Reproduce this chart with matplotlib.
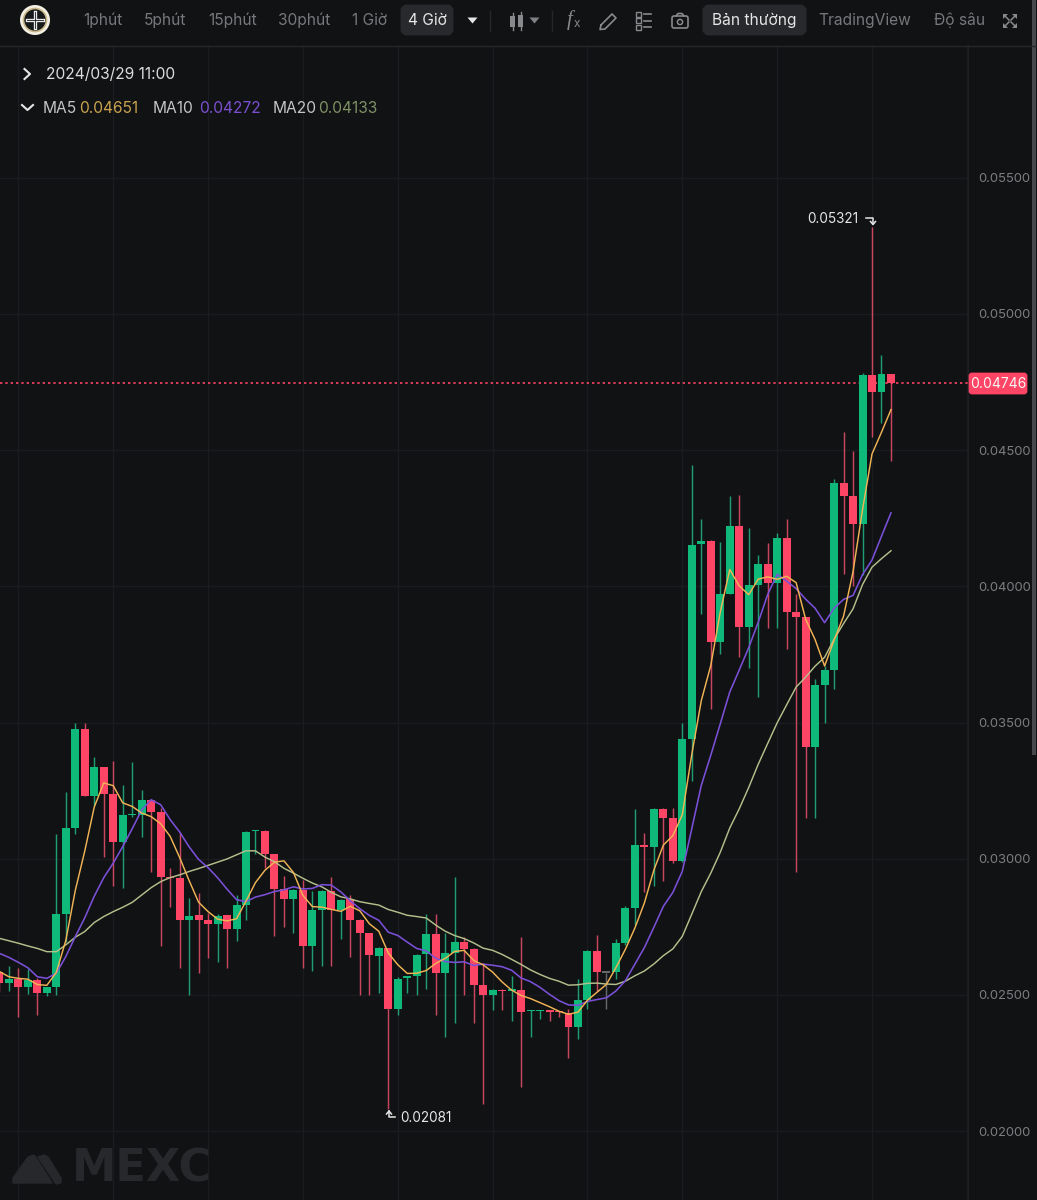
import numpy as np
import pandas as pd
import matplotlib
matplotlib.use("Agg")
import matplotlib.pyplot as plt
from matplotlib.patches import Rectangle, FancyBboxPatch, Circle, Polygon

# Prices in units of 0.00001
opens = [2586,2543,2558,2528,2555,2506,2528,2797,3113,3475,3229,3336,3238,3063,3160,3160,3215,3173,2934,2928,
         2775,2792,2774,2762,2792,2742,2830,3101,3103,3017,2888,2854,2885,2681,2812,2881,2812,2851,2774,2728,
         2644,2673,2450,2563,2568,2650,2723,2580,2653,2695,2668,2537,2500,2518,2516,2519,2440,2440,2444,2439,
         2433,2384,2482,2663,2582,2585,2690,2821,3050,3045,3183,3150,2993,3439,4155,4167,3797,3972,4222,3852,
         4005,4082,4014,4177,3907,3889,3412,3637,3693,4381,4330,4229,4776,4714,4779]
highs = [2592,2606,2598,2594,2561,2531,3090,3246,3500,3500,3372,3336,3360,3271,3355,3253,3220,3185,2965,3100,
         2857,2876,2800,2796,2792,2867,3102,3104,3104,3017,2937,2888,2922,2882,2886,2932,2854,2868,2778,2728,
         2675,2673,2565,2568,2650,2797,2798,2729,2932,2712,2672,2617,2521,2521,2570,2713,2444,2444,2444,2443,
         2448,2560,2666,2722,2582,2707,2825,3182,3094,3186,3186,3187,3498,4446,4246,4169,4162,4330,4336,4213,
         4116,4158,4195,4248,3972,3889,3660,3706,4393,4568,4498,4785,5321,4849,4779]
lows = [2512,2515,2420,2504,2427,2496,2500,2696,3090,3229,3198,3008,2900,2894,3155,3081,2953,2681,2824,2598,
        2500,2580,2635,2622,2598,2700,2775,3018,2965,2718,2751,2729,2598,2589,2608,2608,2706,2641,2500,2500,
        2509,2081,2427,2509,2500,2522,2426,2344,2399,2500,2399,2101,2445,2445,2404,2161,2344,2411,2406,2421,
        2268,2338,2450,2513,2450,2558,2684,2757,2877,2900,2920,2984,2990,3286,3898,3549,3751,3972,3742,3699,
        3595,3846,3849,3769,2953,3151,3151,3500,3625,4046,4002,4042,4547,4601,4460]
closes = [2543,2560,2528,2555,2506,2528,2797,3113,3475,3229,3336,3239,3063,3160,3163,3215,3173,2933,2929,2775,
          2791,2775,2761,2791,2742,2830,3098,3103,3017,2890,2854,2885,2681,2812,2881,2812,2849,2775,2728,2645,
          2673,2450,2560,2568,2648,2723,2580,2653,2695,2668,2538,2500,2519,2514,2519,2439,2443,2444,2439,2436,
          2384,2482,2663,2584,2582,2690,2821,3052,3045,3183,3151,2993,3439,4152,4167,3797,3972,4222,3852,4005,
          4082,4014,4177,3907,3889,3412,3637,3693,4381,4330,4229,4777,4714,4779,4746]
ma5_start = [2586,2567,2561,2558]
ma10_start = [2653,2638,2620,2600,2567,2561,2580,2641,2714]
ma20_start = [2708,2699,2690,2680,2671,2659,2659,2684,2712,2733,2766,2788,2806,2822,2840,2867,2894,2916,2931]
price_ticks = [0.020,0.025,0.030,0.035,0.040,0.045,0.050,0.055]
periods = ["1phút","5phút","15phút","30phút","1 Giờ","4 Giờ"]
last_price = 0.04746
high_label, low_label = 0.05321, 0.02081

SCALE = 1e-5
o,h,l,c = [np.array(a)*SCALE for a in (opens,highs,lows,closes)]
def ma(win, start):
    r = pd.Series(c).rolling(win).mean().to_numpy()
    r[:len(start)] = np.array(start)*SCALE
    return r
idx = np.arange(len(c))

BG="#111214"; GRID="#1b1c1f"; UP="#0fb97a"; DOWN="#fe4565"; UPW="#1f9c72"; DOWNW="#c9465f"; FLAT="#66676a"
plt.rcParams['font.family']=['Inter','DejaVu Sans']
W,H=1037,1200
fig=plt.figure(figsize=(W/100,H/100),dpi=100,facecolor=BG)
ax=fig.add_axes([0,0,968/W,1],facecolor=BG)
ax.set_xlim(0.063,102.12)
ax.set_ylim(1747.4*SCALE,6152.6*SCALE)
ax.set_yticks(price_ticks)
ax.set_yticklabels([f"{t:.5f}" for t in price_ticks])
ax.set_xticks(np.arange(2,103,10))
ax.tick_params(axis='y',left=False,right=False,length=0,labelleft=False,labelright=True,pad=7.2,labelcolor="#7c7d80",labelsize=9.4)
ax.tick_params(axis='x',bottom=False,labelbottom=False)
ax.grid(True,color=GRID,lw=1.0,zorder=0)
for s in ('top','left','bottom'): ax.spines[s].set_visible(False)
ax.spines['right'].set_color("#1e1f22")

col=[UP if b>a else (DOWN if b<a else FLAT) for a,b in zip(o,c)]
wcol=[UPW if b>a else (DOWNW if b<a else FLAT) for a,b in zip(o,c)]
ax.vlines(idx,l,h,colors=wcol,lw=1.05,zorder=2)
body=np.maximum(np.abs(c-o),5*SCALE)
ax.bar(idx,body,bottom=np.minimum(o,c),width=0.84,color=col,lw=0,zorder=3)
ax.plot(idx,ma(20,ma20_start),color="#b4bf8b",lw=1.05,zorder=4)
ax.plot(idx,ma(10,ma10_start),color="#7a50d8",lw=1.15,zorder=5)
ax.plot(idx,ma(5,ma5_start),color="#f0b455",lw=1.05,zorder=6)
ax.axhline(last_price,color=DOWN,lw=1.2,dashes=(1.4,1.8),zorder=2.5)

# overlay in pixel coordinates for the interface furniture
ov=fig.add_axes([0,0,1,1],facecolor='none')
ov.set_xlim(0,W); ov.set_ylim(H,0); ov.axis('off')
T=dict(va='center',fontsize=11.2)
# header
ov.add_patch(Rectangle((0,0),W,45,fc=BG,ec='none'))
ov.plot([0,W],[45.5,45.5],color="#26272a",lw=1)
for s,xc,cc in zip(periods,[103,165,233,304,370,427],["#77787b"]*5+["#e6e6e6"]):
    if s=="4 Giờ":
        ov.add_patch(FancyBboxPatch((404,8),46,24,boxstyle="round,pad=0,rounding_size=3",mutation_aspect=1,fc="#27292c",ec="#27292c",lw=5))
    ov.text(xc,20.5,s,ha='center',color=cc,**T)
ov.add_patch(FancyBboxPatch((706,8),97,24,boxstyle="round,pad=0,rounding_size=3",fc="#27292c",ec="#27292c",lw=5))
ov.text(754.5,20.5,"Bản thường",ha='center',color="#e6e6e6",**T)
ov.text(865,20.5,"TradingView",ha='center',color="#77787b",**T)
ov.text(959.5,20.5,"Độ sâu",ha='center',color="#77787b",**T)
for xt,cc in ((472.5,"#e6e6e6"),(534.5,"#808184")):
    ov.add_patch(Polygon([(xt-5,17.5),(xt+5,17.5),(xt,23.5)],fc=cc,ec='none'))
for xs in (489.5,551.5):
    ov.plot([xs,xs],[11,31],color="#26272a",lw=1)
# logo
ov.add_patch(Circle((35,20),15,fc="#f3efe2",ec='none'))
ov.add_patch(Circle((35,20),11.5,fc="#17181a",ec="#c9b98a",lw=1.2))
ov.plot([27,43],[20,20],color="#e8e8e8",lw=2.4); ov.plot([35,35],[12,28],color="#e8e8e8",lw=2.4)
ov.plot([27,43],[20,20],color="#17181a",lw=.6); ov.plot([35,35],[12,28],color="#17181a",lw=.6)
# icons
IC="#88898c"
ov.add_patch(Rectangle((510,16),5,11,fc=IC,ec='none')); ov.plot([512.5,512.5],[13,30],color=IC,lw=1)
ov.add_patch(Rectangle((518,15),5,12,fc=IC,ec='none')); ov.plot([520.5,520.5],[12,30],color=IC,lw=1)
ov.text(570,20,"f",ha='center',va='center',color=IC,fontsize=15,style='italic',family='Liberation Serif')
ov.text(577,24,"x",ha='center',va='center',color=IC,fontsize=8.5)
ov.plot([601,612,616,605,600,601],[25,14,18,29,29.5,25],color=IC,lw=1.2)
for yy in (14,20.5,27):
    ov.add_patch(Rectangle((636,yy-2.5),5,5,fc='none',ec=IC,lw=1))
    ov.plot([644,651],[yy,yy],color=IC,lw=1.2)
ov.add_patch(FancyBboxPatch((672,16),16,12,boxstyle="round,pad=0,rounding_size=2",fc='none',ec=IC,lw=1.2))
ov.plot([676,678,682,684],[16,13.5,13.5,16],color=IC,lw=1.2)
ov.add_patch(Circle((680,22),2.6,fc='none',ec=IC,lw=1.1))
for (x0,y0,sx,sy) in ((1003,14,1,1),(1017,14,-1,1),(1003,28,1,-1),(1017,28,-1,-1)):
    ov.add_patch(Polygon([(x0,y0),(x0+5*sx,y0),(x0,y0+5*sy)],fc=IC,ec='none'))
    ov.plot([x0+1*sx,x0+6*sx],[y0+1*sy,y0+6*sy],color=IC,lw=1.1)
# legend
ov.plot([24.5,30,24.5],[69,74,79],color="#e6e6e6",lw=1.5)
ov.text(46,74.5,"2024/03/29 11:00",ha='left',color="#dcdcdc",**T)
ov.plot([22,27.5,33],[105,110,105],color="#e6e6e6",lw=1.5)
for xl,s,xv,v,cc in ((43,"MA5",79,"0.04651","#c9a34e"),(153,"MA10",199,"0.04272","#7a50d0"),(273,"MA20",318,"0.04133","#7d9064")):
    ov.text(xl,108.5,s,ha='left',color="#c4c5c7",**T)
    ov.text(xv,108.5,v,ha='left',color=cc,**T)
# extremes, placed through the price axis
ax.annotate(f"{high_label:.5f}",(93-0.05,high_label),xytext=(-16,5.5),textcoords='offset points',ha='right',va='center',color="#e6e6e6",fontsize=9.8,annotation_clip=False)
ax.annotate(f"{low_label:.5f}",(42,low_label),xytext=(2,-6.5),textcoords='offset points',ha='left',va='center',color="#e6e6e6",fontsize=9.8)
ov.plot([866,873,873],[218,218,224],color="#e6e6e6",lw=1.1); ov.plot([870.5,873,875.5],[221.5,224.5,221.5],color="#e6e6e6",lw=1.1)
ov.plot([395,389,389],[1117,1117,1111],color="#e6e6e6",lw=1.1); ov.plot([386.5,389,391.5],[1114,1111,1114],color="#e6e6e6",lw=1.1)
# last price tag
ov.add_patch(FancyBboxPatch((970,374),56,19,boxstyle="round,pad=0,rounding_size=2",fc=DOWN,ec=DOWN,lw=2))
ov.text(998.5,384.5,f"{last_price:.5f}",ha='center',va='center',color="#f4f4f4",fontsize=10)
# scrollbar
ov.add_patch(Rectangle((1031.5,0),4,755,fc="#47484b",ec='none'))
# watermark
WM="#26282b"
ov.add_patch(Polygon([(13,1183),(13,1178),(28,1157),(34,1155),(37,1159),(52,1183)],fc=WM,ec=WM,lw=1,joinstyle='round'))
ov.add_patch(Polygon([(38,1157),(44,1155),(48,1157),(61,1178),(61,1183),(56,1184)],fc=WM,ec=WM,lw=1,joinstyle='round'))
ov.text(72,1169.5,"MEXC",ha='left',va='center',color=WM,fontsize=32,fontweight='bold',family='DejaVu Sans')
fig.savefig("out.png",dpi=100,facecolor=BG)
